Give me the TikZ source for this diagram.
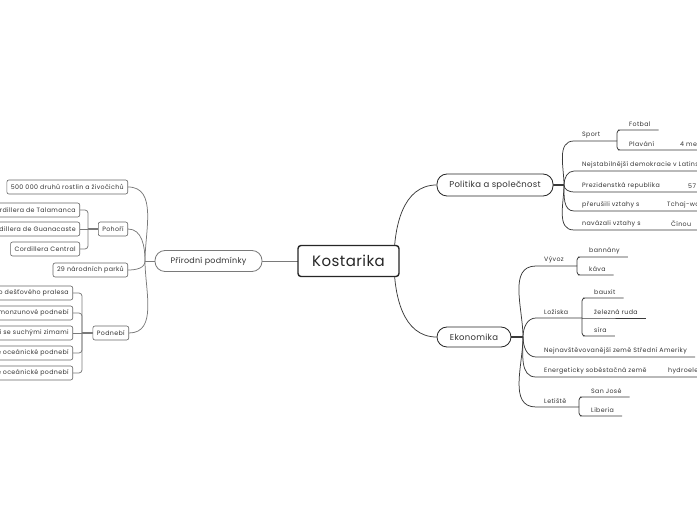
\documentclass[tikz,border=0pt]{standalone}
\usepackage{fontspec}
\setmainfont{Poppins}[LetterSpace=3]
\newfontfamily\smallfont{Poppins}[LetterSpace=5.5]
\usetikzlibrary{backgrounds}
\definecolor{ink}{HTML}{333333}
\definecolor{wire}{HTML}{3A3A3A}
\definecolor{soft}{HTML}{7A7A7A}
\tikzset{
  mainnode/.style={draw=black!85, line width=1.4pt, rounded corners=3pt, fill=white,
    minimum width=101pt, minimum height=31pt, font=\fontsize{15}{18}\selectfont, text=black!85},
  topic/.style={draw=#1, line width=0.8pt, rounded corners=10pt, fill=white, minimum height=21pt,
    inner xsep=8pt, font=\fontsize{8}{10}\selectfont, text=ink},
  cellbox/.style={draw=black!60, line width=0.6pt, rounded corners=2pt, fill=white, anchor=east,
    minimum height=14pt, inner xsep=4pt, inner ysep=1pt, font=\smallfont\fontsize{6.3}{8}\selectfont, text=ink},
  leaf/.style={anchor=south west, inner xsep=8pt, inner ysep=3pt, font=\smallfont\fontsize{6.3}{8}\selectfont, text=ink},
  wire/.style={draw=wire, line width=0.75pt},
  graywire/.style={draw=soft, line width=0.75pt}
}
\begin{document}
\begin{tikzpicture}[x=1pt, y=1pt, line cap=round, line join=round]
% rámeček
\useasboundingbox (0,0) rectangle (697,520);
\clip (0,0) rectangle (697,520);

% střed
\node[mainnode] (kos) at (348.5,259) {Kostarika};

% hlavní větve
\node[topic=soft, minimum width=107pt] (prir) at (208.5,259) {Přírodní podmínky};
\node[topic=black!85, minimum width=116pt, minimum height=22pt, font=\fontsize{8.5}{10}\selectfont] (pol) at (495,335) {Politika a společnost};
\node[topic=black!85, minimum width=74pt, minimum height=20pt, font=\fontsize{8.5}{10}\selectfont] (eko) at (474,183) {Ekonomika};

% Přírodní podmínky
\node[cellbox] (druhy) at (128,333) {500 000 druhů rostlin a živočichů};
\node[cellbox] (pohori) at (128,291) {Pohoří};
\node[cellbox] (parky) at (128,250) {29 národních parků};
\node[cellbox] (podnebi) at (129,187) {Podnebí};

\node[cellbox] (tal) at (80,310) {Cordillera de Talamanca};
\node[cellbox] (gua) at (80,291) {Cordillera de Guanacaste};
\node[cellbox] (cen) at (80,271) {Cordillera Central};

\node[cellbox] (pod1) at (73,227) {Podnebí tropického dešťového pralesa};
\node[cellbox] (pod2) at (73,207) {Tropické monzunové podnebí};
\node[cellbox] (pod3) at (73,187) {Tropické podnebí se suchými zimami};
\node[cellbox] (pod4) at (73,167) {Mírně oceánické podnebí};
\node[cellbox] (pod5) at (73,147) {Chladně oceánické podnebí};

% Politika a společnost
\node[leaf] (sport) at (574,379) {Sport};
\node[leaf] (fotbal) at (621,390) {Fotbal};
\node[leaf] (plavani) at (621,370) {Plavání};
\node[leaf] (medaile) at (672,370) {4 medaile};
\node[leaf] (stab) at (574,349) {Nejstabilnější demokracie v Latinské Americe};
\node[leaf] (prez) at (574,328) {Prezidenstká republika};
\node[leaf] (prez57) at (680,328) {57 let};
\node[leaf] (preru) at (574,309) {přerušili vztahy s};
\node[leaf] (tchaj) at (659,309) {Tchaj-wanem};
\node[leaf] (navaz) at (574,290) {navázali vztahy s};
\node[leaf] (cina) at (663,290) {Čínou};

% Ekonomika
\node[leaf] (vyvoz) at (536,254) {Vývoz};
\node[leaf] (banany) at (581,263) {bannány};
\node[leaf] (kava) at (581,245) {káva};
\node[leaf] (loz) at (536,202) {Ložiska};
\node[leaf] (bauxit) at (586,222) {bauxit};
\node[leaf] (ruda) at (586,202) {železná ruda};
\node[leaf] (sira) at (586,184) {síra};
\node[leaf] (navst) at (536,163) {Nejnavštěvovanější země Střední Ameriky};
\node[leaf] (energ) at (536,143) {Energeticky soběstačná země};
\node[leaf] (hydro) at (660,143) {hydroelektrárny};
\node[leaf] (letiste) at (536,113) {Letiště};
\node[leaf] (sj) at (583,123) {San José};
\node[leaf] (lib) at (583,104) {Liberia};

% body větvení
\coordinate (kr) at (394,259);
\coordinate (lj) at (145,259);
\coordinate (pb) at (88,291);
\coordinate (nb) at (82,187);
\coordinate (pj) at (564,335);
\coordinate (sb) at (617,379);
\coordinate (ej) at (523,183);
\coordinate (vb) at (577,254);
\coordinate (lb) at (582,202);
\coordinate (tb) at (579,113);

\begin{scope}[on background layer]
% od středu
\draw[graywire] (kos.center) -- (prir.east);
\draw[wire] (kr) to[out=90,in=180] (pol.west);
\draw[wire] (kr) to[out=-90,in=180] (eko.west);

% levá strana
\draw[graywire] (prir.west) -- (lj);
\draw[graywire] (lj) to[out=90,in=0] (druhy.east);
\draw[graywire] (lj) to[out=90,in=0] (pohori.east);
\draw[graywire] (lj) to[out=-90,in=0] (parky.east);
\draw[graywire] (lj) to[out=-90,in=0] (podnebi.east);

\draw[graywire, line width=1.3pt] (pohori.west) -- (pb);
\draw[graywire, rounded corners=3pt] (pb) |- (tal.east);
\draw[graywire] (pb) -- (gua.east);
\draw[graywire, rounded corners=3pt] (pb) |- (cen.east);

\draw[graywire, line width=1.3pt] (podnebi.west) -- (nb);
\draw[graywire, rounded corners=3pt] (nb) |- (pod1.east);
\draw[graywire, rounded corners=3pt] (nb) |- (pod2.east);
\draw[graywire] (nb) -- (pod3.east);
\draw[graywire, rounded corners=3pt] (nb) |- (pod4.east);
\draw[graywire, rounded corners=3pt] (nb) |- (pod5.east);

% Politika
\draw[wire, line width=1.3pt] (pol.east) -- (pj);
\draw[wire] (pj) to[out=90,in=180] (sport.south west) -- (sport.south east) -- (sb);
\draw[wire, rounded corners=3pt] (sb) |- (fotbal.south west) -- (fotbal.south east);
\draw[wire, rounded corners=3pt] (sb) |- (plavani.south west) -- (plavani.south east) -- (medaile.south west) -- (medaile.south east);
\draw[wire] (pj) to[out=90,in=180] (stab.south west) -- (stab.south east);
\draw[wire] (pj) to[out=-90,in=180] (prez.south west) -- (prez.south east) -- (prez57.south west) -- (prez57.south east);
\draw[wire] (pj) to[out=-90,in=180] (preru.south west) -- (preru.south east) -- (tchaj.south west) -- (tchaj.south east);
\draw[wire] (pj) to[out=-90,in=180] (navaz.south west) -- (navaz.south east) -- (cina.south west) -- (cina.south east);

% Ekonomika
\draw[wire, line width=1.3pt] (eko.east) -- (ej);
\draw[wire] (ej) to[out=90,in=180] (vyvoz.south west) -- (vyvoz.south east) -- (vb);
\draw[wire, rounded corners=3pt] (vb) |- (banany.south west) -- (banany.south east);
\draw[wire, rounded corners=3pt] (vb) |- (kava.south west) -- (kava.south east);
\draw[wire] (ej) to[out=90,in=180] (loz.south west) -- (loz.south east) -- (lb);
\draw[wire, rounded corners=3pt] (lb) |- (bauxit.south west) -- (bauxit.south east);
\draw[wire] (lb) -- (ruda.south west) -- (ruda.south east);
\draw[wire, rounded corners=3pt] (lb) |- (sira.south west) -- (sira.south east);
\draw[wire] (ej) to[out=-90,in=180] (navst.south west) -- (navst.south east);
\draw[wire] (ej) to[out=-90,in=180] (energ.south west) -- (energ.south east) -- (hydro.south west) -- (hydro.south east);
\draw[wire] (ej) to[out=-90,in=180] (letiste.south west) -- (letiste.south east) -- (tb);
\draw[wire, rounded corners=3pt] (tb) |- (sj.south west) -- (sj.south east);
\draw[wire, rounded corners=3pt] (tb) |- (lib.south west) -- (lib.south east);
\end{scope}
\end{tikzpicture}
\end{document}
